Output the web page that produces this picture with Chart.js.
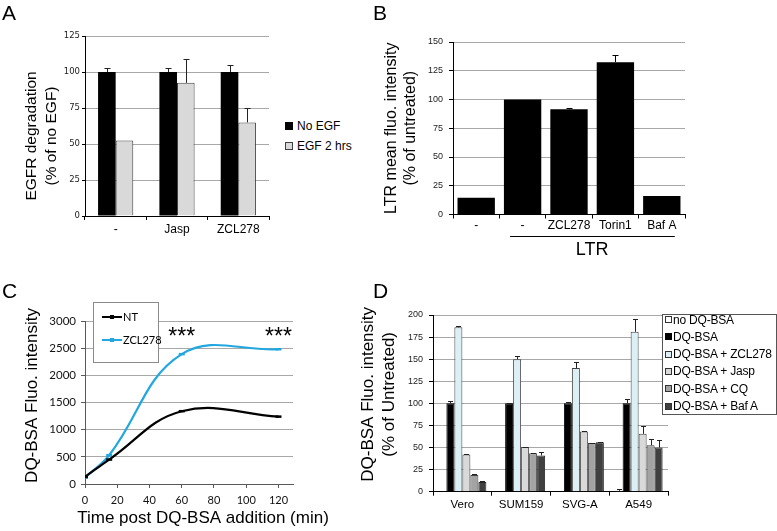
<!DOCTYPE html>
<html><head><meta charset="utf-8">
<script src="https://cdn.jsdelivr.net/npm/chart.js@4.4.1/dist/chart.umd.min.js"></script>
<style>
html,body{margin:0;padding:0;background:#fff;}
body{position:relative;width:777px;height:531px;overflow:hidden;font-family:'Liberation Sans',Arial,sans-serif;color:#000;}
canvas{position:absolute;}
.abs{position:absolute;white-space:nowrap;}
.letter{position:absolute;font-size:21px;line-height:21px;}
</style></head><body>
<canvas id="cA" width="280" height="245" style="left:0;top:0"></canvas>
<canvas id="cB" width="320" height="265" style="left:380px;top:0"></canvas>
<canvas id="cC" width="340" height="261" style="left:0;top:270px"></canvas>
<canvas id="cD" width="421" height="261" style="left:356px;top:270px"></canvas>
<div class="letter" style="left:2px;top:2px">A</div>
<div class="letter" style="left:373px;top:2px">B</div>
<div class="letter" style="left:2px;top:280px">C</div>
<div class="letter" style="left:373px;top:280px">D</div>
<div id="legends"></div>
<script>
// ---------- DATA ----------
// Panel A
const aCategories = ['-', 'Jasp', 'ZCL278'];
const aSeriesNames = ['No EGF', 'EGF 2 hrs'];
const aNoEGF = [100, 100, 100];
const aNoEGFErr = [3, 3, 5];
const aEGF2h = [52.5, 92.5, 65];
const aEGF2hErr = [0, 16.7, 10];
const aYTicks = [0, 25, 50, 75, 100, 125];
const aYTitle = ['EGFR degradation', '(% of no EGF)'];

// Panel B
const bCategories = ['-', '-', 'ZCL278', 'Torin1', 'Baf A'];
const bValues = [14.5, 100, 91.5, 132.5, 16];
const bErr = [0, 0, 1, 6, 0];
const bYTicks = [0, 25, 50, 75, 100, 125, 150];
const bGroupLabel = 'LTR';
const bYTitle = ['LTR mean fluo. intensity', '(% of untreated)'];

// Panel C
const cTime = [0, 15, 60, 120];
const cNT = [130, 450, 1340, 1240];
const cZCL = [120, 530, 2390, 2480];
const cSeriesNames = ['NT', 'ZCL278'];
const cXTicks = [0, 20, 40, 60, 80, 100, 120];
const cYTicks = [0, 500, 1000, 1500, 2000, 2500, 3000];
const cStarTimes = [60, 120];
const cStarText = '***';
const cXTitle = 'Time post DQ-BSA addition (min)';
const cYTitle = ['DQ-BSA Fluo. intensity'];

// Panel D
const dCategories = ['Vero', 'SUM159', 'SVG-A', 'A549'];
const dSeriesNames = ['no DQ-BSA', 'DQ-BSA', 'DQ-BSA + ZCL278', 'DQ-BSA + Jasp', 'DQ-BSA + CQ', 'DQ-BSA + Baf A'];
const dNoDQ = [0, 0, 0, 1];
const dNoDQErr = [0, 0, 0, 1.5];
const dDQ = [100, 100, 100, 100];
const dDQErr = [2.5, 0.5, 1, 5];
const dZCL = [186, 150, 140, 181];
const dZCLErr = [2, 4, 6.5, 15];
const dJasp = [42, 50.5, 68, 65.5];
const dJaspErr = [1.2, 0.5, 0.5, 8.5];
const dCQ = [19, 43.5, 55, 52.5];
const dCQErr = [0.5, 0.8, 0.5, 7.5];
const dBaf = [11, 41, 56, 50];
const dBafErr = [1, 4, 0.5, 8.5];
const dYTicks = [0, 25, 50, 75, 100, 125, 150, 175, 200];
const dYTitle = ['DQ-BSA Fluo. intensity', '(% of Untreated)'];

// ---------- SETUP ----------
const ARIAL = "'Liberation Sans', Arial, sans-serif";
const CALI = "Lato, 'Open Sans', sans-serif";
Chart.defaults.font.family = ARIAL;
Chart.defaults.color = '#000';
Chart.defaults.animation = false;
Chart.defaults.plugins.legend.display = false;
Chart.defaults.plugins.tooltip.enabled = false;

const fixW = w => s => { s.width = w; };
const fixH = h => s => { s.height = h; };
const setTicks = arr => s => { s.ticks = arr.map(v => ({ value: v })); };
const plain = v => String(v);

const errorBars = {
  id: 'errorBars',
  afterDatasetsDraw(chart, args, opts) {
    const ctx = chart.ctx, y = chart.scales.y;
    const cap = opts.cap || 3;
    chart.data.datasets.forEach((ds, di) => {
      if (!ds.errors) return;
      const meta = chart.getDatasetMeta(di);
      meta.data.forEach((bar, i) => {
        const e = ds.errors[i];
        if (!e) return;
        const top = Math.round(y.getPixelForValue(ds.data[i] + e)) + 0.5;
        const x = Math.round(bar.x) + 0.5;
        ctx.save();
        ctx.strokeStyle = opts.color || '#000';
        ctx.lineWidth = 1;
        ctx.beginPath();
        ctx.moveTo(x, bar.y); ctx.lineTo(x, top);
        ctx.moveTo(x - cap, top); ctx.lineTo(x + cap, top);
        ctx.stroke();
        ctx.restore();
      });
    });
  }
};

// rotated y-axis title (multi-line) drawn next to the axis, without Chart.js width squeezing
const yTitlePlugin = {
  id: 'yTitle',
  afterDraw(chart, args, o) {
    if (!o || !o.lines) return;
    const ctx = chart.ctx, ca = chart.chartArea;
    ctx.save();
    ctx.fillStyle = '#000'; ctx.font = o.size + 'px ' + ARIAL; ctx.textAlign = 'center'; ctx.textBaseline = 'middle';
    o.lines.forEach((t, i) => {
      ctx.save();
      ctx.translate(o.x + i * o.gap, (ca.top + ca.bottom) / 2 + o.dy);
      ctx.rotate(-Math.PI / 2);
      ctx.fillText(t, 0, 0);
      ctx.restore();
    });
    ctx.restore();
  }
};

// ---------- PANEL A ----------
new Chart(document.getElementById('cA'), {
  type: 'bar',
  data: { labels: aCategories, datasets: [
    { label: aSeriesNames[0], data: aNoEGF, errors: aNoEGFErr, backgroundColor: '#000', borderColor: '#000', borderWidth: 0 },
    { label: aSeriesNames[1], data: aEGF2h, errors: aEGF2hErr, backgroundColor: '#d9d9d9', borderColor: '#404040', borderWidth: 1 }
  ]},
  options: {
    responsive: false,
    layout: { padding: { left: 22, top: 36, right: 11, bottom: 5 } },
    datasets: { bar: { categoryPercentage: 0.574, barPercentage: 1 } },
    plugins: { errorBars: { cap: 3, color: '#222' }, yTitle: { lines: aYTitle, size: 15.5, x: 32, gap: 20, dy: 10 } },
    scales: {
      x: { afterFit: fixH(24), grid: { drawOnChartArea: false, tickLength: 4, tickColor: '#000' },
           border: { color: '#000' }, ticks: { font: { size: 12 }, padding: 2, maxRotation: 0, autoSkip: false } },
      y: { min: 0, max: 125, afterBuildTicks: setTicks(aYTicks), afterFit: fixW(63),
           grid: { color: '#a8a8a8', tickLength: 3, tickColor: '#000' }, border: { color: '#000' },
           ticks: { font: { family: "'DejaVu Sans', sans-serif", size: 8.5 }, padding: 2, color: '#222', callback: plain } }
    }
  },
  plugins: [errorBars, yTitlePlugin]
});

// ---------- PANEL B ----------
const ltrPlugin = {
  id: 'ltr',
  afterDraw(chart) {
    const ctx = chart.ctx, x = chart.scales.x, ca = chart.chartArea;
    const w = x.getPixelForValue(1) - x.getPixelForValue(0);
    const x1 = x.getPixelForValue(1) - 0.27 * w, x2 = x.getPixelForValue(4) + 0.28 * w;
    const yl = Math.round(ca.bottom + 21.5) + 0.5;
    ctx.save();
    ctx.strokeStyle = '#000'; ctx.lineWidth = 1;
    ctx.beginPath(); ctx.moveTo(x1, yl); ctx.lineTo(x2, yl); ctx.stroke();
    ctx.fillStyle = '#000'; ctx.font = '18px ' + ARIAL; ctx.textAlign = 'center'; ctx.textBaseline = 'middle';
    ctx.fillText(bGroupLabel, (x.getPixelForValue(1) + x.getPixelForValue(4)) / 2, ca.bottom + 36);
    ctx.restore();
  }
};
new Chart(document.getElementById('cB'), {
  type: 'bar',
  data: { labels: bCategories, datasets: [
    { label: 'LTR mean fluo. intensity', data: bValues, errors: bErr, backgroundColor: '#000', borderColor: '#000', borderWidth: 0 }
  ]},
  options: {
    responsive: false,
    layout: { padding: { left: 2.5, top: 42, right: 15, bottom: 30.5 } },
    datasets: { bar: { categoryPercentage: 0.805, barPercentage: 1 } },
    plugins: { errorBars: { cap: 3, color: '#000' } },
    scales: {
      x: { afterFit: fixH(20), grid: { drawOnChartArea: false, tickLength: 4, tickColor: '#000' },
           border: { color: '#000' }, ticks: { font: { size: 12 }, padding: 0, maxRotation: 0, minRotation: 0, autoSkip: false } },
      y: { min: 0, max: 150, afterBuildTicks: setTicks(bYTicks), afterFit: fixW(70.5),
           grid: { color: '#a8a8a8', tickLength: 4, tickColor: '#000' }, border: { color: '#000' },
           ticks: { font: { size: 9 }, padding: 6, color: '#222', callback: plain },
           title: { display: true, text: bYTitle, font: { size: 16, lineHeight: 19 / 16 }, padding: 0 } }
    }
  },
  plugins: [errorBars, ltrPlugin]
});

// ---------- PANEL C ----------
const starPlugin = {
  id: 'stars',
  afterDatasetsDraw(chart) {
    const ctx = chart.ctx, x = chart.scales.x, y = chart.scales.y;
    ctx.save();
    ctx.fillStyle = '#000'; ctx.font = '23px ' + ARIAL; ctx.textAlign = 'center'; ctx.textBaseline = 'middle';
    cStarTimes.forEach(t => ctx.fillText(cStarText, x.getPixelForValue(t), y.getPixelForValue(2700)));
    ctx.restore();
  }
};
const cXTitlePlugin = {
  id: 'cXTitle',
  afterDraw(chart) {
    const ctx = chart.ctx, ca = chart.chartArea;
    ctx.save();
    ctx.fillStyle = '#000'; ctx.font = '17px ' + ARIAL; ctx.textAlign = 'center'; ctx.textBaseline = 'middle';
    ctx.fillText(cXTitle, ca.left + 118, chart.height - 13);
    ctx.restore();
  }
};
const cColors = ['#000000', '#22a7df'];
new Chart(document.getElementById('cC'), {
  type: 'line',
  data: { datasets: [
    { label: cSeriesNames[0], data: cTime.map((t, i) => ({ x: t, y: cNT[i] })), borderColor: cColors[0], backgroundColor: cColors[0],
      borderWidth: 2.2, tension: 0.4, pointStyle: 'line', pointRadius: 3, pointBorderWidth: 2.5, fill: false },
    { label: cSeriesNames[1], data: cTime.map((t, i) => ({ x: t, y: cZCL[i] })), borderColor: cColors[1], backgroundColor: cColors[1],
      borderWidth: 2.2, tension: 0.4, pointStyle: 'line', pointRadius: 3, pointBorderWidth: 2.5, fill: false }
  ]},
  options: {
    responsive: false,
    layout: { padding: { left: 0, top: 51, right: 47, bottom: 0 } },
    plugins: { yTitle: { lines: cYTitle, size: 17, x: 32, gap: 0, dy: -7 } },
    scales: {
      x: { type: 'linear', min: 0, max: 129, afterBuildTicks: setTicks(cXTicks), afterFit: fixH(47),
           grid: { drawOnChartArea: false, tickLength: 4, tickColor: '#595959' }, border: { color: '#595959' },
           ticks: { font: { family: CALI, size: 11 }, padding: 5.4, color: '#111', callback: plain } },
      y: { min: 0, max: 3000, afterBuildTicks: setTicks(cYTicks), afterFit: fixW(85),
           grid: { color: '#a8a8a8', tickLength: 4, tickColor: '#595959' }, border: { color: '#595959' },
           ticks: { font: { family: CALI, size: 11.5 }, padding: 5, color: '#111', callback: plain } }
    }
  },
  plugins: [starPlugin, cXTitlePlugin, yTitlePlugin]
});

// ---------- PANEL D ----------
const dFill = ['#ffffff', '#000000', '#dbeff5', '#d9d9d9', '#a3a3a3', '#404040'];
const dStroke = ['#404040', '#000000', '#404040', '#404040', '#404040', '#262626'];
const dSeries = [dNoDQ, dDQ, dZCL, dJasp, dCQ, dBaf];
const dErrs = [dNoDQErr, dDQErr, dZCLErr, dJaspErr, dCQErr, dBafErr];
new Chart(document.getElementById('cD'), {
  type: 'bar',
  data: { labels: dCategories, datasets: dSeries.map((d, i) => ({
    label: dSeriesNames[i], data: d, errors: dErrs[i], backgroundColor: dFill[i], borderColor: dStroke[i], borderWidth: 1
  })) },
  options: {
    responsive: false,
    layout: { padding: { left: 1.5, top: 45, right: 109, bottom: 9.3 } },
    datasets: { bar: { categoryPercentage: 0.817, barPercentage: 1 } },
    plugins: { errorBars: { cap: 2.5, color: '#222' }, yTitle: { lines: dYTitle, size: 17, x: 12, gap: 21, dy: -9 } },
    scales: {
      x: { afterFit: fixH(30), grid: { drawOnChartArea: false, tickLength: 4, tickColor: '#000' },
           border: { color: '#000' }, ticks: { font: { size: 11.5 }, padding: 2.4, maxRotation: 0, autoSkip: false } },
      y: { min: 0, max: 200, afterBuildTicks: setTicks(dYTicks), afterFit: fixW(75.5),
           grid: { color: '#a8a8a8', tickLength: 4, tickColor: '#000' }, border: { color: '#000' },
           ticks: { font: { size: 9 }, padding: 6, color: '#222', callback: plain } }
    }
  },
  plugins: [errorBars, yTitlePlugin]
});

// ---------- LEGENDS (HTML text) ----------
const L = document.getElementById('legends');
function el(css, html) { const d = document.createElement('div'); d.className = 'abs'; d.style.cssText = css; if (html !== undefined) d.textContent = html; L.appendChild(d); return d; }

// A legend
const aFill = ['#000', '#d9d9d9'], aStroke = ['#000', '#404040'];
aSeriesNames.forEach((n, i) => {
  const cy = 126 + i * 20;
  el(`left:285px;top:${cy - 4}px;width:6px;height:6px;background:${aFill[i]};border:1px solid ${aStroke[i]};`);
  el(`left:297px;top:${cy - 8}px;height:16px;line-height:16px;font-size:12px;`, n);
});

// C legend
el('left:93px;top:302px;width:66px;height:61px;box-sizing:border-box;border:1px solid #8a8a8a;background:#fff;');
cSeriesNames.forEach((n, i) => {
  const cy = 317 + i * 23;
  el(`left:102px;top:${cy - 1}px;width:20px;height:2px;background:${cColors[i]};`);
  el(`left:110px;top:${cy - 2}px;width:4px;height:4px;background:${cColors[i]};`);
  el(`left:123px;top:${cy - 8}px;height:16px;line-height:16px;font-size:11px;font-family:Lato,sans-serif;`, n);
});

// D legend
el('left:662px;top:314px;width:115px;height:101px;box-sizing:border-box;border:1px solid #555;background:#fff;');
dSeriesNames.forEach((n, i) => {
  const cy = 319.5 + i * 17.3;
  el(`left:665px;top:${cy - 3.5}px;width:5px;height:5px;background:${dFill[i]};border:1px solid ${dStroke[i] === '#000000' ? '#000' : '#333'};`);
  el(`left:673px;top:${cy - 8}px;height:16px;line-height:16px;font-size:12px;letter-spacing:-0.2px;`, n);
});
</script>
</body></html>
